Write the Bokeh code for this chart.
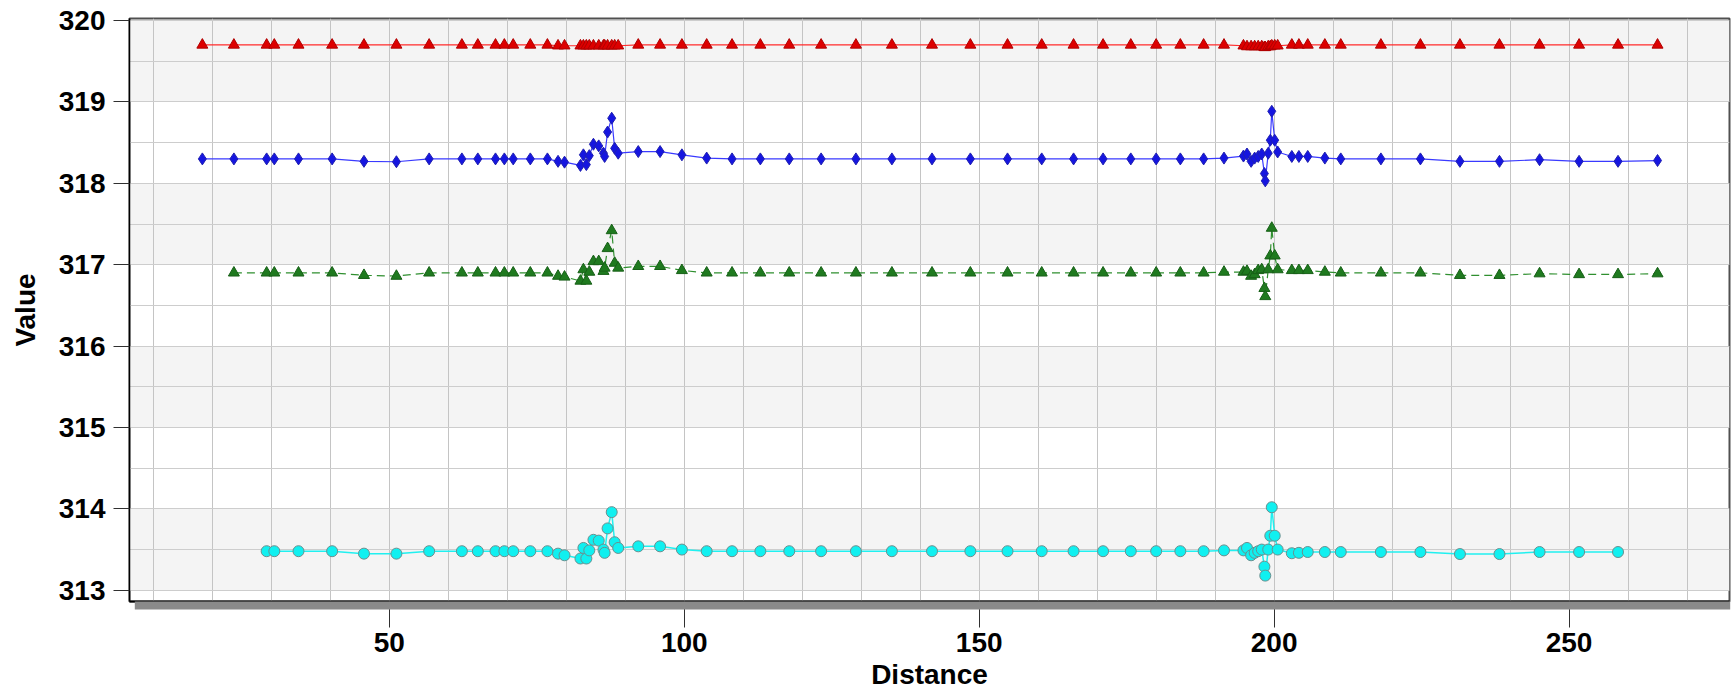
import numpy as np
from bokeh.plotting import figure
from bokeh.models import (ColumnDataSource, Range1d, SingleIntervalTicker, Grid, FixedTicker)
from bokeh.embed import file_html
from bokeh.resources import INLINE

# ---------------- data ----------------
DIST = [18.3, 23.65, 29.2, 30.5, 34.6, 40.3, 45.7, 51.2, 56.75, 62.3, 65.0, 68.0, 69.5, 71.0,
        73.9, 76.8, 78.6, 79.7,
        82.4, 82.9, 83.4, 83.9, 84.6, 85.5, 86.3, 86.5, 87.0, 87.7, 88.2, 88.8,
        92.2, 95.9, 99.6, 103.8, 108.1, 112.9, 117.8, 123.2, 129.1, 135.2, 142.0, 148.5,
        154.8, 160.6, 166.0, 171.0, 175.7, 180.0, 184.1, 188.05, 191.5,
        194.8, 195.4, 196.1, 196.7, 197.3, 197.9, 198.35, 198.5, 199.0, 199.35, 199.6, 200.1, 200.6,
        203.0, 204.2, 205.7, 208.6, 211.3, 218.1, 224.8, 231.5, 238.2, 245.0, 251.7, 258.3, 265.0]

RED = [319.70, 319.70, 319.70, 319.70, 319.70, 319.70, 319.70, 319.70, 319.70, 319.70, 319.70, 319.70, 319.70, 319.70,
       319.70, 319.70, 319.69, 319.69,
       319.69, 319.69, 319.69, 319.69, 319.69, 319.69, 319.69, 319.69, 319.69, 319.69, 319.69, 319.69,
       319.70, 319.70, 319.70, 319.70, 319.70, 319.70, 319.70, 319.70, 319.70, 319.70, 319.70, 319.70,
       319.70, 319.70, 319.70, 319.70, 319.70, 319.70, 319.70, 319.70, 319.70,
       319.69, 319.68, 319.68, 319.68, 319.68, 319.68, 319.67, 319.67, 319.68, 319.68, 319.69, 319.69, 319.69,
       319.70, 319.70, 319.70, 319.70, 319.70, 319.70, 319.70, 319.70, 319.70, 319.70, 319.70, 319.70, 319.70]

BLUE = [318.30, 318.30, 318.30, 318.30, 318.30, 318.30, 318.27, 318.265, 318.30, 318.30, 318.30, 318.30, 318.30, 318.30,
        318.30, 318.30, 318.27, 318.26,
        318.22, 318.35, 318.23, 318.34, 318.48, 318.46, 318.37, 318.33, 318.63, 318.80, 318.43, 318.37,
        318.39, 318.39, 318.35, 318.31, 318.30, 318.30, 318.30, 318.30, 318.30, 318.30, 318.30, 318.30,
        318.30, 318.30, 318.30, 318.30, 318.30, 318.30, 318.30, 318.30, 318.31,
        318.335, 318.36, 318.27, 318.31, 318.33, 318.36, 318.12, 318.03, 318.37, 318.53, 318.885, 318.53, 318.385,
        318.33, 318.33, 318.33, 318.31, 318.30, 318.30, 318.30, 318.27, 318.27, 318.29, 318.27, 318.27, 318.28]

DIST_GREEN = DIST[1:]
GREEN = [316.90, 316.90, 316.90, 316.90, 316.90, 316.87, 316.86, 316.90, 316.90, 316.90, 316.90, 316.90, 316.90,
         316.90, 316.90, 316.86, 316.85,
         316.80, 316.94, 316.80, 316.91, 317.04, 317.04, 316.92, 316.96, 317.20, 317.42, 317.02, 316.96,
         316.98, 316.98, 316.93, 316.90, 316.90, 316.90, 316.90, 316.90, 316.90, 316.90, 316.90, 316.90,
         316.90, 316.90, 316.90, 316.90, 316.90, 316.90, 316.90, 316.90, 316.91,
         316.91, 316.92, 316.86, 316.88, 316.93, 316.94, 316.71, 316.61, 316.94, 317.11, 317.45, 317.11, 316.94,
         316.93, 316.93, 316.93, 316.91, 316.90, 316.90, 316.90, 316.87, 316.87, 316.89, 316.88, 316.88, 316.89]

DIST_CYAN = DIST[2:-1]
CYAN = [313.48, 313.48, 313.48, 313.48, 313.45, 313.45, 313.48, 313.48, 313.48, 313.48, 313.48, 313.48,
        313.48, 313.48, 313.45, 313.43,
        313.39, 313.52, 313.39, 313.49, 313.62, 313.61, 313.50, 313.46, 313.76, 313.96, 313.59, 313.52,
        313.54, 313.54, 313.50, 313.48, 313.48, 313.48, 313.48, 313.48, 313.48, 313.48, 313.48, 313.48,
        313.48, 313.48, 313.48, 313.48, 313.48, 313.48, 313.48, 313.48, 313.49,
        313.49, 313.52, 313.43, 313.46, 313.48, 313.50, 313.29, 313.18, 313.50, 313.67, 314.02, 313.67, 313.50,
        313.455, 313.46, 313.47, 313.47, 313.47, 313.47, 313.47, 313.445, 313.445, 313.47, 313.47, 313.47]

X_TICKS = [50, 100, 150, 200, 250]
Y_TICKS_STEP = 1

FONT = "Liberation Sans"
X_START, X_END = 5.95, 277.2

p = figure(width=1732, height=694, output_backend="svg", toolbar_location=None,
           x_range=Range1d(X_START, X_END), y_range=Range1d(312.862, 320.025),
           min_border_left=129, min_border_right=3, min_border_top=18, min_border_bottom=93,
           background_fill_color="white", border_fill_color="white",
           outline_line_color="#505050", outline_line_width=2)

# grids: alternate bands every 1 (drawn first), then lines every 10 (x) and 0.5 (y)
p.ygrid.ticker = SingleIntervalTicker(interval=1)
p.ygrid.grid_line_color = None
p.ygrid.band_fill_color = "#f4f4f4"
p.ygrid.band_fill_alpha = 1.0
p.xgrid.grid_line_color = None
xlines = Grid(dimension=0, ticker=SingleIntervalTicker(interval=10),
              grid_line_color="#c4c4c4", grid_line_width=1)
ylines = Grid(dimension=1, ticker=SingleIntervalTicker(interval=0.5),
              grid_line_color="#cdcdcd", grid_line_width=1)
p.add_layout(xlines)
p.add_layout(ylines)

# series
src_r = ColumnDataSource(dict(x=DIST, y=RED))
src_b = ColumnDataSource(dict(x=DIST, y=BLUE))
src_g = ColumnDataSource(dict(x=DIST_GREEN, y=GREEN))
src_c = ColumnDataSource(dict(x=DIST_CYAN, y=CYAN))

p.line("x", "y", source=src_r, line_color="#ff2a2a", line_width=1.2)
p.scatter("x", "y", source=src_r, marker="triangle", size=11,
          fill_color="#dd0000", line_color="#b00000", line_width=1)

p.line("x", "y", source=src_b, line_color="#3a3aff", line_width=1.2)
p.scatter("x", "y", source=src_b, marker="diamond", size=12,
          fill_color="#1515e0", line_color="#2020b0", line_width=1)

p.line("x", "y", source=src_g, line_color="#2f8f2f", line_width=1.2, line_dash="8 5")
p.scatter("x", "y", source=src_g, marker="triangle", size=11,
          fill_color="#1f7a1f", line_color="#176017", line_width=1)

p.line("x", "y", source=src_c, line_color="#20f0f0", line_width=1.5)
p.scatter("x", "y", source=src_c, marker="circle", size=11,
          fill_color="#10f0f0", line_color="#6a8f8f", line_width=1)

# axes; the x axis' dense minor ticks paint the grey drop shadow under the frame
shadow_ticks = list(np.arange(X_START + 1.05, X_END, 0.12))
p.xaxis.ticker = FixedTicker(ticks=X_TICKS, minor_ticks=shadow_ticks)
p.yaxis.ticker = SingleIntervalTicker(interval=Y_TICKS_STEP)
p.xaxis.axis_label = "Distance"
p.yaxis.axis_label = "Value"
for ax in (p.xaxis, p.yaxis):
    ax.axis_line_color = "black"
    ax.major_tick_line_color = "#303030"
    ax.major_tick_line_width = 1
    ax.major_tick_in = 0
    ax.minor_tick_line_color = None
    ax.major_label_text_font = FONT
    ax.major_label_text_font_style = "bold"
    ax.major_label_text_font_size = "28px"
    ax.major_label_text_color = "black"
    ax.axis_label_text_font = FONT
    ax.axis_label_text_font_style = "bold"
    ax.axis_label_text_font_size = "28px"
    ax.axis_label_text_color = "black"
p.xaxis.minor_tick_line_color = "#8a8a8a"
p.xaxis.minor_tick_line_width = 1.4
p.xaxis.minor_tick_in = 0
p.xaxis.minor_tick_out = 8
p.xaxis.axis_line_width = 2
p.yaxis.axis_line_width = 1.5
p.xaxis.major_tick_out = 26
p.xaxis.major_label_standoff = 5
p.xaxis.axis_label_standoff = 4
p.yaxis.major_tick_out = 16
p.yaxis.major_label_standoff = 8
p.yaxis.axis_label_standoff = 15

open("out.html", "w").write(file_html(p, INLINE))
